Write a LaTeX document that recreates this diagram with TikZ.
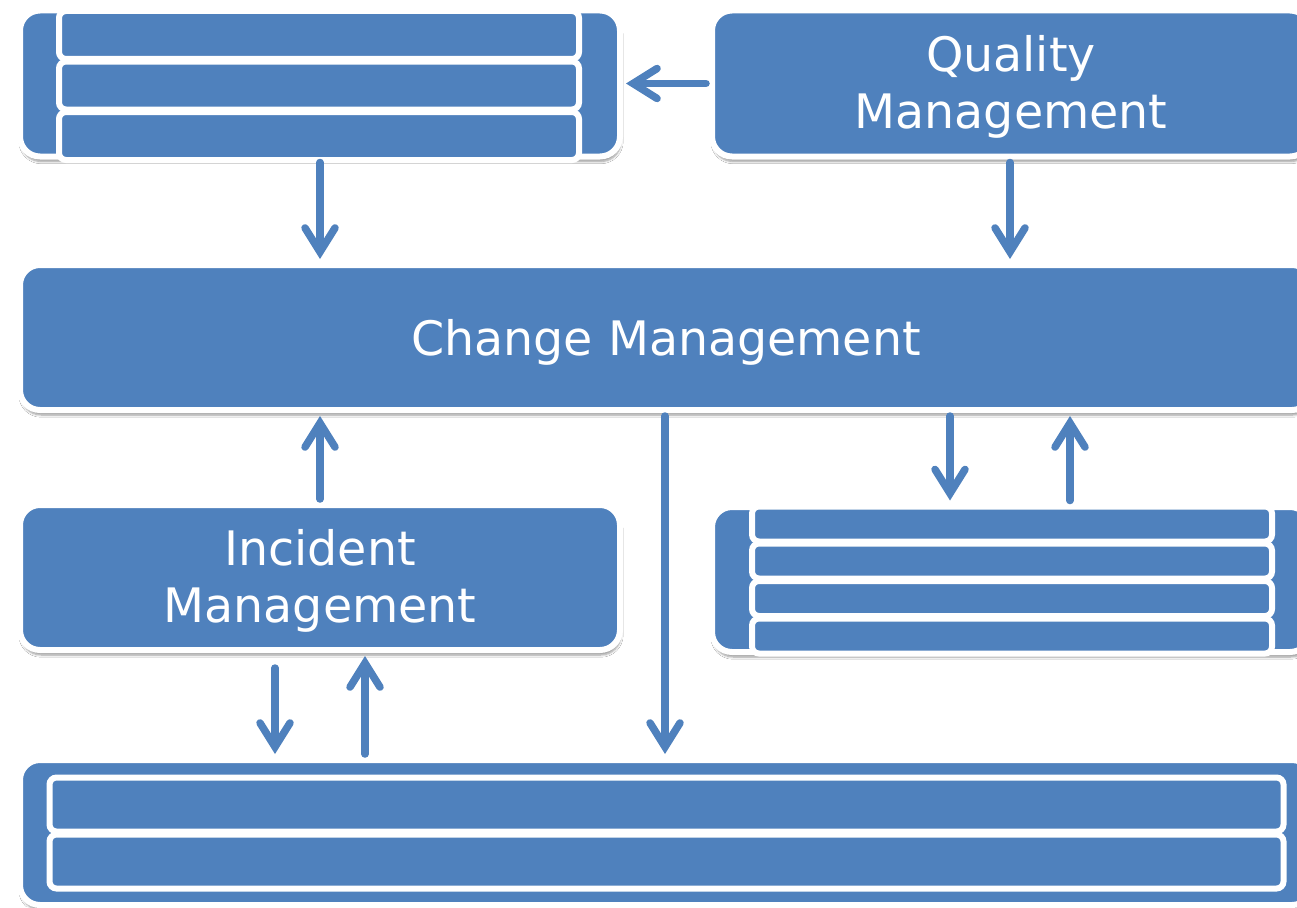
\documentclass[tikz,border=0pt]{standalone}
\usepackage{fontspec}
\setmainfont{DejaVu Sans}
\usetikzlibrary{arrows.meta,shadows.blur}
\definecolor{ofblue}{HTML}{4F81BD}
\newcommand{\lowertext}[1]{\raisebox{-5pt}[\height][\depth]{#1}}
\tikzset{
  box/.style={rectangle, rounded corners=20pt, fill=ofblue, draw=white, line width=6pt,
    inner sep=0pt, text=white, align=center,
    blur shadow={shadow xshift=1pt, shadow yshift=-5pt, shadow opacity=40, shadow blur steps=6},
    font=\fontsize{47.5}{57}\selectfont},
  bar/.style={rectangle, rounded corners=7pt, fill=ofblue, draw=white, line width=6pt, inner sep=0pt},
  arr/.style={draw=ofblue, line width=7.5pt, line cap=round,
    -{Straight Barb[length=24pt, width=30pt, line cap=round]},
    shorten >=3pt, shorten <=3pt}
}
\begin{document}
\begin{tikzpicture}[x=1pt, y=-1pt]
\useasboundingbox (0,0) rectangle (1297,907);
\fill[white] (0,0) rectangle (1297,907);
% top-left stacked box
\node[box, minimum width=600pt, minimum height=146pt] (A) at (320,83.5) {};
\node[bar, minimum width=520pt, minimum height=48pt] (A1) at (319,35) {};
\node[bar, minimum width=520pt, minimum height=48pt] (A2) at (319,85.5) {};
\node[bar, minimum width=520pt, minimum height=48pt] (A3) at (319,136) {};
% quality management
\node[box, minimum width=598pt, minimum height=146pt] (Q) at (1011,83.5) {\lowertext{\begin{tabular}{@{}c@{}}Quality\\Management\end{tabular}}};
% change management
\node[box, minimum width=1292pt, minimum height=145pt] (C) at (666,337.5) {\lowertext{Change Management}};
% incident management
\node[box, minimum width=600pt, minimum height=145pt] (I) at (320,577.5) {\lowertext{\begin{tabular}{@{}c@{}}Incident\\Management\end{tabular}}};
% right stacked box
\node[box, minimum width=598pt, minimum height=145pt] (D) at (1011,579.5) {};
\node[bar, minimum width=520pt, minimum height=35pt] (D1) at (1012,524) {};
\node[bar, minimum width=520pt, minimum height=35pt] (D2) at (1012,561) {};
\node[bar, minimum width=520pt, minimum height=35pt] (D3) at (1012,598.5) {};
\node[bar, minimum width=520pt, minimum height=35pt] (D4) at (1012,636) {};
% bottom stacked box
\node[box, minimum width=1292pt, minimum height=145pt] (E) at (666,832.5) {};
\node[bar, minimum width=1234pt, minimum height=54pt] (E1) at (666.5,804.5) {};
\node[bar, minimum width=1234pt, minimum height=54pt] (E2) at (666.5,861.5) {};
% connectors
\draw[arr] (Q.west) -- (A.east);
\draw[arr] (A.south -| 320,0) -- (C.north -| 320,0);
\draw[arr] (Q.south -| 1010,0) -- (C.north -| 1010,0);
\draw[arr] (I.north) -- (C.south -| I.north);
\draw[arr] (C.south -| 950,0) -- (D1.north -| 950,0);
\draw[arr] (D1.north -| 1070,0) -- (C.south -| 1070,0);
\draw[arr] ([yshift=-12pt]I.south -| 275,0) -- (E.north -| 275,0);
\draw[arr] (E.north -| 365,0) -- (I.south -| 365,0);
\draw[arr] (C.south -| 665,0) -- (E.north -| 665,0);
\end{tikzpicture}
\end{document}
